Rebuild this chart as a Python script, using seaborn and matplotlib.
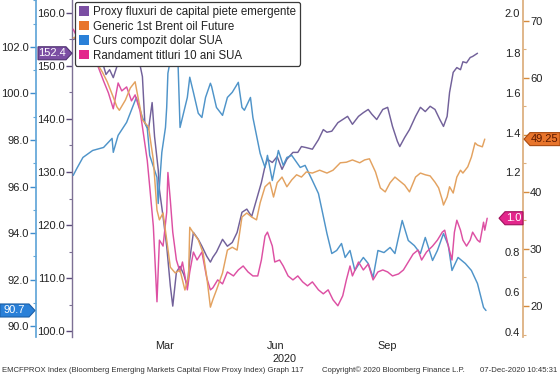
import numpy as np
import pandas as pd
import matplotlib
matplotlib.use("Agg")
import matplotlib.pyplot as plt
import matplotlib.transforms as mtransforms
import matplotlib.dates as mdates
from matplotlib.patches import Patch, Polygon
from matplotlib.ticker import MultipleLocator, FixedLocator, FormatStrFormatter, FuncFormatter
import seaborn as sns

BASE = pd.Timestamp("2020-01-01")

# ---------------- data (days since 2020-01-01, values) ----------------
proxy_days = [-1, 9, 17, 23, 26, 29, 32, 35, 39, 46, 51, 56, 58, 61, 64, 66, 69, 70, 73, 76,
              79, 81, 84, 87, 90, 93, 95, 98, 102, 105, 109, 112, 114, 117, 122, 126, 130, 134,
              138, 142, 146, 150, 154, 157, 159, 163, 167, 171, 175, 180, 184, 187, 191, 196,
              201, 205, 208, 212, 217, 221, 225, 229, 234, 238, 242, 245, 249, 254, 258, 262,
              266, 268, 272, 276, 281, 285, 289, 293, 297, 301, 304, 307, 309, 312, 315, 318,
              320, 323, 326, 328, 332]
proxy_vals = [155.0, 155.9, 154.0, 150.8, 148.4, 149.3, 147.8, 149.9, 152.1, 154.0, 153.5, 148.0,
              139.3, 138.0, 143.1, 136.7, 130.5, 126.7, 121.6, 116.0, 108.5, 104.7, 111.1, 112.2,
              110.7, 108.5, 113.5, 118.6, 117.3, 116.0, 114.1, 113.0, 113.9, 114.9, 117.3, 116.0,
              116.7, 118.6, 122.4, 123.0, 121.6, 124.8, 128.0, 131.1, 132.4, 131.8, 132.9, 130.5,
              132.4, 133.7, 133.7, 134.8, 134.6, 134.3, 136.1, 138.0, 137.5, 137.7, 139.3, 139.9,
              140.5, 139.0, 140.5, 141.2, 141.8, 140.9, 139.9, 141.8, 142.2, 138.6, 135.8, 134.8,
              136.5, 138.0, 140.5, 142.2, 141.4, 142.4, 141.8, 139.9, 138.6, 140.5, 145.0, 148.8,
              149.7, 149.3, 150.8, 150.6, 151.6, 151.8, 152.4]

brent_days = [-1, 5, 11, 17, 23, 27, 32, 35, 37, 42, 46, 50, 52, 56, 61, 65, 68, 70, 73, 76,
              79, 83, 87, 91, 94, 95, 98, 102, 106, 109, 112, 114, 117, 120, 122, 126, 130, 134,
              138, 142, 146, 150, 153, 157, 161, 164, 167, 171, 175, 179, 183, 187, 191, 196,
              202, 208, 213, 219, 224, 229, 235, 239, 243, 248, 252, 256, 260, 264, 268, 272,
              276, 281, 285, 289, 293, 297, 300, 303, 304, 307, 309, 312, 315, 318, 320, 324,
              327, 330, 332, 336, 338]
brent_vals = [66.97, 67.5, 65.7, 63.1, 61.0, 59.3, 56.6, 54.9, 54.3, 56.1, 58.2, 59.3, 57.0, 52.6,
              51.4, 45.6, 36.8, 35.1, 36.3, 31.6, 26.8, 25.8, 26.3, 22.8, 25.1, 33.8, 32.8, 31.6,
              29.3, 25.1, 19.8, 21.1, 22.8, 24.6, 25.8, 29.8, 30.3, 29.8, 35.6, 36.3, 35.6, 35.1,
              38.1, 40.9, 41.7, 39.1, 41.6, 42.6, 40.9, 42.1, 43.0, 42.6, 43.5, 43.3, 43.8, 43.3,
              43.8, 45.1, 45.2, 45.6, 45.1, 45.6, 45.8, 43.5, 40.7, 40.0, 41.6, 42.6, 41.9, 41.2,
              40.0, 42.6, 43.3, 43.0, 42.8, 41.7, 40.7, 38.6, 37.7, 39.1, 40.9, 39.8, 42.6, 43.8,
              43.3, 44.4, 46.1, 48.6, 48.2, 47.9, 49.25]

dxy_days = [-1, 2, 7, 15, 24, 31, 32, 36, 43, 51, 56, 60, 62, 68, 69, 72, 75, 76, 77, 79,
            83, 85, 87, 93, 95, 98, 102, 105, 108, 112, 113, 117, 122, 126, 130, 135, 138, 140,
            145, 147, 153, 157, 159, 163, 168, 172, 175, 179, 186, 190, 196, 201, 204, 208,
            212, 216, 220, 223, 227, 231, 235, 238, 242, 246, 250, 255, 260, 264, 270, 275,
            280, 285, 289, 295, 299, 304, 308, 311, 316, 322, 327, 332, 337, 339]
dxy_vals = [96.48, 96.78, 97.25, 97.55, 97.68, 98.07, 97.47, 98.20, 98.76, 99.83, 98.97, 98.50,
            97.34, 96.39, 95.27, 97.47, 98.54, 99.40, 100.87, 101.43, 102.6, 101.86, 98.54,
            99.83, 100.70, 100.05, 99.15, 98.97, 99.83, 100.44, 100.30, 99.40, 99.06, 99.83,
            100.05, 100.48, 99.40, 99.28, 99.83, 98.97, 97.42, 96.82, 97.34, 96.26, 97.55,
            96.91, 97.25, 97.34, 96.82, 96.91, 96.26, 95.70, 94.97, 93.98, 93.12, 93.25, 93.55,
            92.95, 93.25, 92.39, 92.73, 92.95, 92.69, 92.09, 93.25, 93.16, 93.38, 93.12, 94.54,
            93.68, 93.46, 93.12, 93.81, 92.82, 93.25, 93.98, 93.46, 92.39, 92.95, 92.69, 92.39,
            91.83, 90.80, 90.67]

ust_days = [-1, 3, 7, 11, 15, 19, 24, 28, 32, 36, 39, 43, 47, 50, 54, 56, 60, 62, 65, 68,
            70, 73, 76, 77, 79, 81, 84, 87, 89, 93, 95, 98, 101, 105, 109, 112, 114, 118, 122,
            126, 131, 135, 139, 143, 147, 151, 154, 157, 159, 163, 165, 169, 172, 176, 180,
            184, 188, 192, 196, 201, 205, 209, 213, 217, 221, 224, 227, 229, 234, 238, 242,
            246, 250, 254, 258, 262, 267, 271, 275, 279, 283, 286, 290, 295, 299, 303, 305,
            308, 311, 313, 315, 318, 320, 323, 326, 328, 332, 334, 337, 338, 340]
ust_vals = [1.92, 1.87, 1.89, 1.82, 1.83, 1.74, 1.66, 1.60, 1.52, 1.65, 1.61, 1.63, 1.56, 1.59,
            1.51, 1.43, 1.26, 1.13, 0.93, 0.55, 0.86, 0.83, 1.00, 1.20, 1.06, 0.90, 0.76, 0.70,
            0.75, 0.61, 0.70, 0.80, 0.76, 0.80, 0.67, 0.61, 0.62, 0.66, 0.64, 0.70, 0.68, 0.71,
            0.73, 0.70, 0.68, 0.68, 0.76, 0.88, 0.90, 0.83, 0.75, 0.76, 0.73, 0.68, 0.66, 0.68,
            0.65, 0.63, 0.65, 0.61, 0.59, 0.61, 0.56, 0.53, 0.58, 0.66, 0.73, 0.68, 0.75, 0.71,
            0.74, 0.66, 0.70, 0.71, 0.70, 0.68, 0.69, 0.71, 0.75, 0.79, 0.81, 0.76, 0.80, 0.83,
            0.86, 0.90, 0.91, 0.83, 0.76, 0.90, 0.96, 0.91, 0.86, 0.83, 0.86, 0.90, 0.86, 0.85,
            0.95, 0.91, 0.97]

legend_labels = ["Proxy fluxuri de capital piete emergente",
                 "Generic 1st Brent oil Future",
                 "Curs compozit dolar SUA",
                 "Randament titluri 10 ani SUA"]
month_ticks = ["2020-03-15", "2020-06-15", "2020-09-15"]
month_labels = ["Mar", "Jun", "Sep"]
year_label = "2020"
footer_left = "EMCFPROX Index (Bloomberg Emerging Markets Capital Flow Proxy Index) Graph 117"
footer_mid = "Copyright\u00a9 2020 Bloomberg Finance L.P."
footer_right = "07-Dec-2020 10:45:31"

# ---------------- style ----------------
sns.set_theme(style="white")
plt.rcParams["font.family"] = ["Liberation Sans", "DejaVu Sans"]

C_PROXY_LINE, C_PROXY = "#72619a", "#7b4ea3"
C_BRENT_LINE, C_BRENT = "#e3a260", "#e8752c"
C_DXY_LINE, C_DXY = "#4f94c9", "#2a80d8"
C_UST_LINE, C_UST = "#dd50a3", "#e3268c"

W, H = 560, 379
fig = plt.figure(figsize=(W / 100, H / 100), dpi=100)
fig.patch.set_facecolor("white")
L, R, T, B = 72, 523, 0, 337
ax = fig.add_axes([L / W, (H - B) / H, (R - L) / W, (B - T) / H])
ax.set_facecolor("white")
ax_b = ax.twinx()
ax_p = ax.twinx()
ax_o = ax.twinx()


def to_dates(days):
    return BASE + pd.to_timedelta(np.asarray(days, dtype=float), unit="D")


lw = 1.05
sns.lineplot(x=to_dates(proxy_days), y=proxy_vals, ax=ax, color=C_PROXY_LINE, lw=lw,
             estimator=None, sort=False, legend=False)
sns.lineplot(x=to_dates(dxy_days), y=dxy_vals, ax=ax_b, color=C_DXY_LINE, lw=lw,
             estimator=None, sort=False, legend=False)
sns.lineplot(x=to_dates(ust_days), y=ust_vals, ax=ax_p, color=C_UST_LINE, lw=lw,
             estimator=None, sort=False, legend=False)
sns.lineplot(x=to_dates(brent_days), y=brent_vals, ax=ax_o, color=C_BRENT_LINE, lw=lw,
             estimator=None, sort=False, legend=False)

for a in (ax, ax_b, ax_p, ax_o):
    a.set_xlabel("")
    a.set_ylabel("")
    a.grid(False)
    for s in a.spines.values():
        s.set_visible(False)

ax.set_xlim(BASE + pd.Timedelta(days=-2.0), BASE + pd.Timedelta(days=369.5))

# purple (inner left)
ax.set_ylim(98.87, 162.45)
ax.yaxis.set_major_locator(FixedLocator([100, 110, 120, 130, 140, 150, 160]))
ax.yaxis.set_minor_locator(MultipleLocator(5))
ax.yaxis.set_major_formatter(FormatStrFormatter("%.1f"))
ax.spines["left"].set_visible(True)
ax.spines["left"].set_color("#7d7094")
ax.spines["left"].set_linewidth(1.0)
ax.tick_params(axis="y", which="major", direction="out", length=4, width=1,
               color="#5b4a7a", labelsize=8, labelcolor="#222222", pad=1)
ax.tick_params(axis="y", which="minor", direction="out", length=2.5, width=0.8, color="#7d7094")

# blue (outer left)
ax_b.yaxis.set_ticks_position("left")
ax_b.spines["left"].set_visible(True)
ax_b.spines["left"].set_position(("axes", (36 - L) / (R - L)))
ax_b.spines["left"].set_color("#62a6d8")
ax_b.set_ylim(89.53, 104.02)
ax_b.yaxis.set_major_locator(FixedLocator([90, 92, 94, 96, 98, 100, 102]))
ax_b.yaxis.set_minor_locator(MultipleLocator(1))
ax_b.yaxis.set_major_formatter(FormatStrFormatter("%.1f"))
ax_b.tick_params(axis="y", which="major", direction="out", length=4, width=1,
                 color="#3f8ccc", labelsize=8, labelcolor="#222222", pad=1)
ax_b.tick_params(axis="y", which="minor", direction="out", length=2.5, width=0.8, color="#62a6d8")

# pink (labels left of the right spine); the 1.0 label is covered by the value tag
ax_p.yaxis.set_ticks_position("left")
ax_p.spines["left"].set_position(("axes", 1.0))
ax_p.set_ylim(0.373, 2.067)
ax_p.yaxis.set_major_locator(FixedLocator([0.4, 0.6, 0.8, 1.0, 1.2, 1.4, 1.6, 1.8, 2.0]))
ax_p.yaxis.set_minor_locator(FixedLocator([]))
ax_p.yaxis.set_major_formatter(FuncFormatter(lambda v, p: "" if abs(v - 1.0) < 1e-6 else f"{v:.1f}"))
ax_p.tick_params(axis="y", which="major", length=0, labelsize=8, labelcolor="#222222", pad=2)

# orange (outer right); the 50 label is covered by the value tag
ax_o.spines["right"].set_visible(True)
ax_o.spines["right"].set_color("#dcae7c")
ax_o.set_ylim(14.57, 73.63)
ax_o.yaxis.set_major_locator(FixedLocator([20, 30, 40, 50, 60, 70]))
ax_o.yaxis.set_minor_locator(MultipleLocator(5))
ax_o.yaxis.set_major_formatter(FuncFormatter(lambda v, p: "" if abs(v - 50) < 1e-6 else f"{v:.0f}"))
ax_o.tick_params(axis="y", which="major", direction="out", length=4, width=1,
                 color="#d58a3c", labelsize=8, labelcolor="#222222", pad=1)
ax_o.tick_params(axis="y", which="minor", direction="out", length=2.5, width=0.8, color="#dcae7c")

# x axis
ax.set_xticks(pd.to_datetime(month_ticks))
ax.set_xticklabels(month_labels)
ax.tick_params(axis="x", length=0, pad=3, labelsize=7.8, labelcolor="#222222")
trans = mtransforms.blended_transform_factory(ax.transData, fig.transFigure)
ax.text(mdates.date2num(BASE + pd.Timedelta(days=173)), (H - 359) / H, year_label,
        transform=trans, ha="center", va="center", fontsize=7.8, color="#222222")

# legend
handles = [Patch(facecolor=c, edgecolor="none") for c in (C_PROXY, C_BRENT, C_DXY, C_UST)]
leg = fig.legend(handles, legend_labels, loc="upper left",
                 bbox_to_anchor=(75 / W, 1 - 2 / H), borderaxespad=0,
                 fontsize=8.3, handlelength=0.9, handleheight=0.9, handletextpad=0.35,
                 labelspacing=0.22, borderpad=0.35, frameon=True, fancybox=True,
                 framealpha=1, facecolor="white", edgecolor="#3a3a3a")
leg.get_frame().set_linewidth(0.9)
for t in leg.get_texts():
    t.set_color("#222222")


# value tags
def tag(axis, val, text, x0, x1, tip, fc, tc, ec):
    yd = axis.transData.transform((0, val))[1]
    h = 6.5
    if tip == "right":
        verts = [(x0, yd - h), (x1 - 6, yd - h), (x1, yd), (x1 - 6, yd + h), (x0, yd + h)]
        cx = (x0 + x1 - 6) / 2
    else:
        verts = [(x0, yd), (x0 + 6, yd - h), (x1, yd - h), (x1, yd + h), (x0 + 6, yd + h)]
        cx = (x0 + 6 + x1) / 2
    verts = [(vx / W, vy / H) for vx, vy in verts]
    poly = Polygon(verts, closed=True, transform=fig.transFigure, facecolor=fc,
                   edgecolor=ec, linewidth=0.8, zorder=20)
    fig.patches.append(poly)
    fig.text(cx / W, yd / H, text, ha="center", va="center", fontsize=8, color=tc, zorder=21)


tag(ax, proxy_vals[-1], f"{proxy_vals[-1]:.1f}", 38, 72, "right", C_PROXY, "white", "#4e3170")
tag(ax_b, dxy_vals[-1], f"{dxy_vals[-1]:.1f}", 0, 35, "right", C_DXY, "white", "#1c5fa6")
tag(ax_o, brent_vals[-1], f"{brent_vals[-1]:.2f}", 524, 560, "left", C_BRENT, "#5a1800", "#a84a10")
tag(ax_p, ust_vals[-1], f"{ust_vals[-1]:.1f}", 499, 523, "left", C_UST, "white", "#a0105c")

# footer
fy = (H - 370) / H
fig.text(2 / W, fy, footer_left, ha="left", va="center", fontsize=5.6, color="#333333")
fig.text(322 / W, fy, footer_mid, ha="left", va="center", fontsize=5.6, color="#333333")
fig.text(557 / W, fy, footer_right, ha="right", va="center", fontsize=5.6, color="#333333")

fig.savefig("out.png", dpi=100)
